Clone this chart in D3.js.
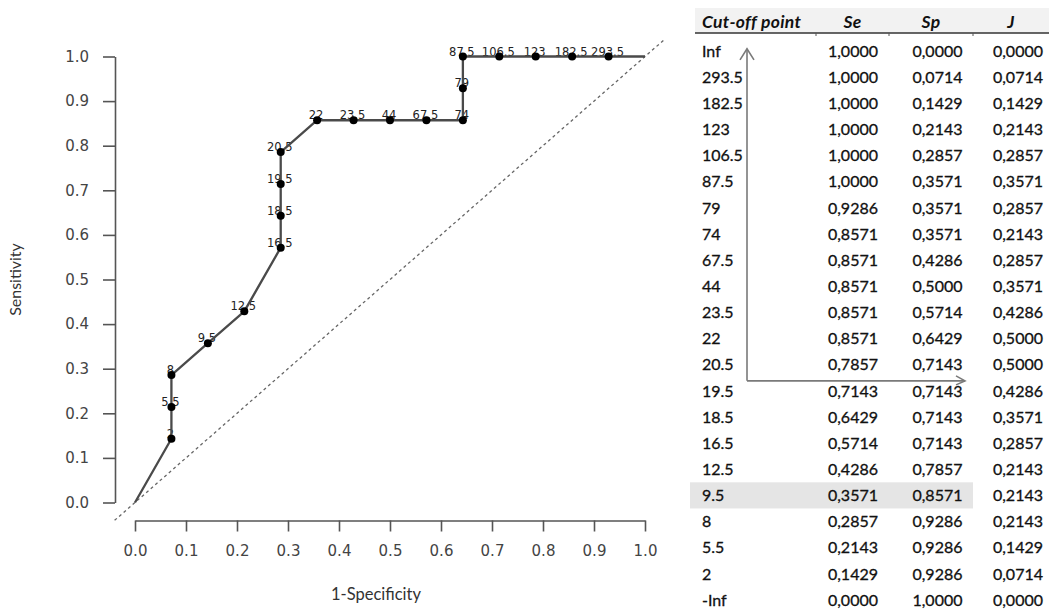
<!DOCTYPE html>
<html>
<head>
<meta charset="utf-8">
<script src="https://cdn.jsdelivr.net/npm/d3@7"></script>
<style>
  html, body { margin: 0; padding: 0; background: #fff; }
  svg { display: block; }
</style>
</head>
<body>
<svg id="chart" width="1049" height="610"></svg>
<script>
// ROC analysis: cut-off points with sensitivity (Se), specificity (Sp) and Youden's J
const cutoffs = ["Inf", "293.5", "182.5", "123", "106.5", "87.5", "79", "74", "67.5", "44",
  "23.5", "22", "20.5", "19.5", "18.5", "16.5", "12.5", "9.5", "8", "5.5", "2", "-Inf"];
const se = [1, 1, 1, 1, 1, 1, 0.9286, 0.8571, 0.8571, 0.8571,
  0.8571, 0.8571, 0.7857, 0.7143, 0.6429, 0.5714, 0.4286, 0.3571, 0.2857, 0.2143, 0.1429, 0];
const sp = [0, 0.0714, 0.1429, 0.2143, 0.2857, 0.3571, 0.3571, 0.3571, 0.4286, 0.5,
  0.5714, 0.6429, 0.7143, 0.7143, 0.7143, 0.7143, 0.7857, 0.8571, 0.9286, 0.9286, 0.9286, 1];
const youden = [0, 0.0714, 0.1429, 0.2143, 0.2857, 0.3571, 0.2857, 0.2143, 0.2857, 0.3571,
  0.4286, 0.5, 0.5, 0.4286, 0.3571, 0.2857, 0.2143, 0.2143, 0.2143, 0.1429, 0.0714, 0];
const xTicks = [0, 0.1, 0.2, 0.3, 0.4, 0.5, 0.6, 0.7, 0.8, 0.9, 1.0];
const yTicks = [0, 0.1, 0.2, 0.3, 0.4, 0.5, 0.6, 0.7, 0.8, 0.9, 1.0];
const columns = ["Cut-off point", "Se", "Sp", "J"];
const highlightCut = "9.5";
const arrowFrom = "Inf";
const arrowTurn = "20.5";

const rows = cutoffs.map((c, i) => ({ cut: c, se: se[i], sp: sp[i], j: youden[i], fpr: 1 - sp[i] }));

const svg = d3.select("#chart");
const axisFont = "'DejaVu Sans', Verdana, sans-serif";
const textFont = "Lato, 'Open Sans', sans-serif";

// ---------- ROC plot ----------
const x = d3.scaleLinear().domain([0, 1]).range([135, 645]);
const y = d3.scaleLinear().domain([0, 1]).range([502.5, 56.5]);

const plot = svg.append("g");

// chance diagonal, spanning the padded plot region
const diag = [-0.04, 1.04];
plot.append("line")
  .attr("x1", x(diag[0])).attr("y1", y(diag[0]))
  .attr("x2", x(diag[1])).attr("y2", y(diag[1]))
  .attr("stroke", "#666").attr("stroke-width", 1.3)
  .attr("stroke-dasharray", "3,3");

// axes
const yAxis = d3.axisLeft(y).tickValues(yTicks).tickFormat(d3.format(".1f"))
  .tickSizeInner(12).tickSizeOuter(0).tickPadding(14);
const xAxis = d3.axisBottom(x).tickValues(xTicks).tickFormat(d3.format(".1f"))
  .tickSizeInner(11).tickSizeOuter(0).tickPadding(14);

const gy = plot.append("g").attr("transform", "translate(115,0)").call(yAxis);
const gx = plot.append("g").attr("transform", "translate(0,520.5)").call(xAxis);
[gx, gy].forEach(g => {
  g.select(".domain").attr("stroke", "#555").attr("stroke-width", 1.6);
  g.selectAll(".tick line").attr("stroke", "#555").attr("stroke-width", 1.6);
  g.selectAll(".tick text").attr("fill", "#444")
    .style("font-family", axisFont).style("font-size", "15px");
});

// axis titles
plot.append("text")
  .attr("x", 376).attr("y", 600)
  .attr("text-anchor", "middle")
  .style("font-family", textFont).style("font-size", "16.5px").attr("fill", "#333")
  .text("1-Specificity");
plot.append("text")
  .attr("transform", `translate(21,${(y(0) + y(1)) / 2}) rotate(-90)`)
  .attr("text-anchor", "middle")
  .style("font-family", textFont).style("font-size", "16px").attr("fill", "#333")
  .text("Sensitivity");

// threshold labels (drawn first so the curve runs over them)
const finite = rows.filter(d => d.cut !== "Inf" && d.cut !== "-Inf");
plot.append("g").selectAll("text")
  .data(finite).join("text")
  .attr("x", d => x(d.fpr) - 1)
  .attr("y", d => y(d.se) - 1)
  .attr("text-anchor", "middle")
  .style("font-family", axisFont).style("font-size", "11.5px")
  .attr("fill", "#222")
  .text(d => d.cut);

// ROC curve, from (0,0) to (1,1)
const curve = rows.slice().reverse();
const line = d3.line().x(d => x(d.fpr)).y(d => y(d.se));
plot.append("path")
  .datum(curve)
  .attr("d", line)
  .attr("fill", "none")
  .attr("stroke", "#4a4a4a")
  .attr("stroke-width", 2.3)
  .attr("stroke-linejoin", "round");

// threshold points
plot.append("g").selectAll("circle")
  .data(finite).join("circle")
  .attr("cx", d => x(d.fpr))
  .attr("cy", d => y(d.se))
  .attr("r", 4)
  .attr("fill", "#000");

// ---------- table ----------
const table = svg.append("g");
const colEdges = [695, 816, 889, 973, 1049];
const rowY = d3.scalePoint().domain(cutoffs).range([50.85, 600]);
const rowH = rowY.step();
const numFmt = v => d3.format(".4f")(v).replace(".", ",");

// header band and rule
table.append("rect")
  .attr("x", colEdges[0]).attr("y", 8)
  .attr("width", colEdges[4] - colEdges[0]).attr("height", 25)
  .attr("fill", "#f2f2f2");
table.append("line")
  .attr("x1", colEdges[0]).attr("x2", colEdges[4])
  .attr("y1", 33).attr("y2", 33)
  .attr("stroke", "#333").attr("stroke-width", 1.6);
table.selectAll(".sep")
  .data(colEdges.slice(1, 4)).join("line")
  .attr("class", "sep")
  .attr("x1", d => d).attr("x2", d => d)
  .attr("y1", 33).attr("y2", 36)
  .attr("stroke", "#555").attr("stroke-width", 1);

// header cells
table.selectAll(".head")
  .data(columns).join("text")
  .attr("class", "head")
  .attr("x", (d, i) => i === 0 ? 702 : (colEdges[i] + colEdges[i + 1]) / 2)
  .attr("y", 28)
  .attr("text-anchor", (d, i) => i === 0 ? "start" : "middle")
  .style("font-family", textFont).style("font-size", "17.5px")
  .style("font-style", "italic").style("font-weight", "bold")
  .style("letter-spacing", "0.3px")
  .attr("fill", "#111")
  .text(d => d);

// highlighted row
table.append("rect")
  .attr("x", 690).attr("y", rowY(highlightCut) - rowH / 2)
  .attr("width", colEdges[3] - 690).attr("height", rowH)
  .attr("fill", "#e5e5e5");

// body cells
const valueRight = [878, 962.5, 1043];
const bodyRows = table.selectAll(".row")
  .data(rows).join("g")
  .attr("class", "row")
  .attr("transform", d => `translate(0,${rowY(d.cut)})`);
bodyRows.append("text")
  .attr("x", 702).attr("dy", "0.36em")
  .style("font-family", textFont).style("font-size", "16px")
  .attr("fill", "#111").attr("stroke", "#111").attr("stroke-width", 0.3)
  .text(d => d.cut);
bodyRows.selectAll(".val")
  .data(d => [d.se, d.sp, d.j]).join("text")
  .attr("class", "val")
  .attr("x", (d, i) => valueRight[i]).attr("dy", "0.36em")
  .attr("text-anchor", "end")
  .style("font-family", textFont).style("font-size", "16px")
  .attr("fill", "#111").attr("stroke", "#111").attr("stroke-width", 0.3)
  .text(d => numFmt(d));

// guide arrow: up the cut-off column, then across at the best J
const ax = 747;
const tipY = rowY(arrowFrom) - 2;
const turnY = rowY(arrowTurn) + rowH * 0.62;
const tipX = 965;
const arrow = table.append("g")
  .attr("fill", "none").attr("stroke", "#7a7a7a").attr("stroke-width", 1.6);
arrow.append("path").attr("d", `M${ax},${turnY}V${tipY}M${ax},${turnY}H${tipX}`);
arrow.append("path").attr("d", `M${ax - 7},${tipY + 11}L${ax},${tipY}L${ax + 7},${tipY + 11}`);
arrow.append("path").attr("d", `M${tipX - 9},${turnY - 5}L${tipX},${turnY}L${tipX - 9},${turnY + 4}`);
</script>
</body>
</html>
